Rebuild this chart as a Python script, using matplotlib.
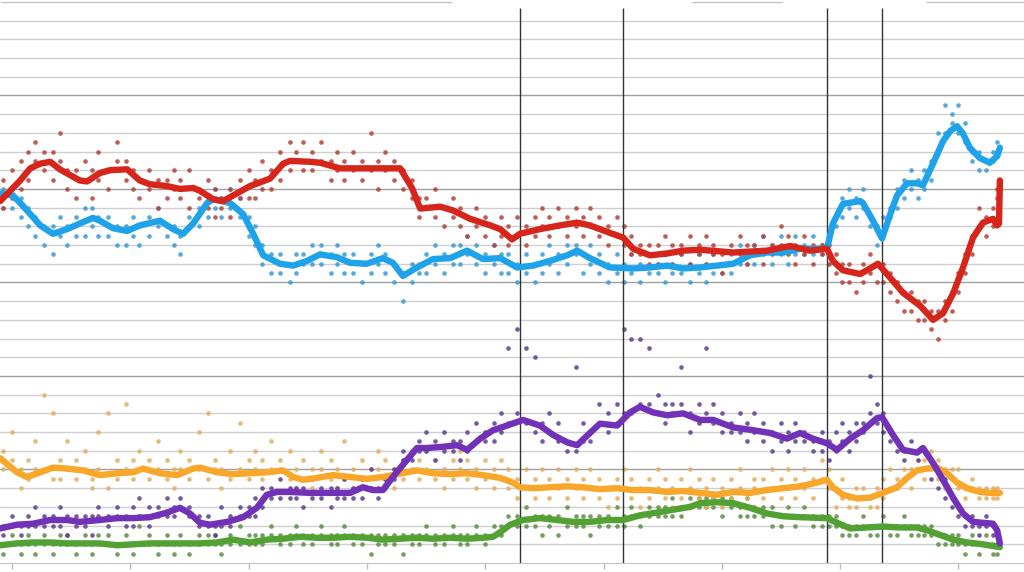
import matplotlib
matplotlib.use("Agg")
import matplotlib.pyplot as plt

# weeks since start of the parliament, poll share in percent

# smoothed trend lines
red_wk = [-2.6, 1.8, 4.0, 6.2, 8.4, 10.5, 14.9, 16.5, 19.3, 21.5, 25.3, 28.1, 30.3, 34.1, 36.9, 39.8, 41.3, 44.2,
          46.4, 48.6, 52.3, 56.7, 59.6, 61.1, 65.5, 67.7, 72.1, 81.5, 85.3, 87.9, 89.7, 94.1, 96.9, 100.7, 105.1,
          107.3, 109.9, 111.6, 116.0, 120.4, 124.2, 127.0, 131.4, 134.3, 136.5, 140.2, 144.0, 147.5, 151.2, 158.5,
          165.9, 171.0, 175.4, 179.1, 180.4, 182.6, 186.4, 188.6, 190.3, 193.0, 195.8, 199.6, 202.4, 204.6, 206.8,
          209.0, 211.2, 213.4, 215.6, 216.5, 216.9, 217.1]
red_pct = [38.7, 40.9, 42.2, 42.7, 42.9, 42.1, 40.9, 40.8, 41.7, 42.0, 42.1, 40.9, 40.5, 40.3, 40.0, 40.1, 39.8, 38.9,
           38.7, 39.3, 40.3, 41.1, 42.7, 43.0, 42.9, 42.8, 42.2, 42.2, 42.2, 40.1, 37.9, 38.1, 37.7, 36.8, 36.1,
           35.7, 34.6, 35.2, 35.7, 36.1, 36.4, 36.1, 35.3, 34.8, 33.6, 32.9, 33.1, 33.4, 33.5, 33.2,
           33.4, 33.9, 33.4, 33.6, 32.3, 31.3, 30.9, 31.5, 32.0, 30.5, 28.9, 27.5, 26.0, 26.7, 28.8,
           31.6, 34.8, 36.4, 36.8, 36.1, 36.3, 40.9]

blue_wk = [-2.6, 0.2, 1.8, 3.3, 6.2, 9.0, 12.1, 14.9, 17.8, 19.3, 22.2, 25.3, 28.1, 32.5, 35.4, 37.6, 39.8, 42.9,
           44.2, 47.9, 50.8, 53.0, 55.2, 58.9, 61.8, 64.8, 67.7, 71.4, 74.3, 78.0, 81.5, 83.7, 85.9, 89.0, 92.5,
           96.3, 100.0, 103.5, 107.3, 111.0, 114.5, 118.2, 122.0, 124.2, 127.0, 131.4, 136.5, 140.2, 144.0, 147.5,
           151.2, 154.9, 158.5, 162.2, 165.9, 169.5, 173.2, 179.1, 180.4, 182.6, 186.4, 187.0, 189.2, 191.2, 193.0,
           194.5, 196.7, 198.9, 200.2, 202.4, 204.6, 206.2, 207.7, 209.0, 210.5, 212.7, 214.9, 216.5, 217.1]
blue_pct = [39.5, 39.3, 38.5, 37.7, 36.1, 35.2, 35.7, 36.3, 36.9, 36.6, 35.8, 35.5, 36.1, 36.6, 35.7, 35.2, 36.3, 38.5,
            38.9, 38.5, 37.3, 35.2, 32.9, 32.0, 31.8, 32.3, 33.0, 32.7, 32.1, 32.0, 32.6, 32.1, 30.7, 31.6, 32.5,
            32.6, 33.4, 32.5, 32.6, 31.6, 31.8, 32.3, 32.9, 33.4, 32.6, 31.6, 31.5, 31.6, 31.8, 31.5,
            31.6, 31.8, 32.0, 32.9, 33.2, 33.2, 33.6, 33.6, 36.3, 38.4, 38.7, 38.5, 36.6, 34.7, 37.3,
            39.3, 40.6, 40.6, 40.4, 42.7, 45.1, 46.2, 46.7, 45.9, 44.4, 43.3, 42.8, 43.5, 44.4]

purple_wk = [-2.6, 1.1, 4.6, 8.4, 12.1, 14.9, 19.3, 23.1, 26.6, 30.3, 34.1, 36.9, 39.1, 41.3, 43.5, 47.3, 50.8, 53.8,
             56.0, 58.2, 61.1, 65.5, 70.5, 74.3, 77.1, 79.3, 81.5, 83.7, 85.9, 89.0, 91.2, 94.1, 97.8, 100.0, 102.9,
             105.7, 108.8, 112.3, 116.0, 118.9, 122.0, 124.2, 127.0, 129.2, 133.0, 135.8, 138.0, 140.9, 144.0, 147.5,
             151.2, 154.1, 158.5, 162.9, 166.6, 170.3, 173.2, 176.0, 179.1, 181.3, 184.2, 187.0, 190.1, 191.2, 193.6,
             195.8, 198.9, 200.2, 202.4, 204.6, 206.8, 209.0, 211.2, 213.4, 215.6, 216.5, 217.1]
purple_pct = [3.7, 4.1, 4.2, 4.6, 4.6, 4.4, 4.6, 4.8, 4.8, 4.9, 5.4, 5.9, 5.3, 4.3, 4.1, 4.4, 4.9, 5.9,
              7.3, 7.6, 7.6, 7.5, 7.5, 7.5, 8.1, 7.8, 7.8, 9.2, 10.5, 12.3, 12.3, 12.4, 12.6, 12.1, 13.3,
              14.2, 14.7, 15.3, 14.7, 13.7, 12.9, 12.6, 13.9, 14.9, 14.7, 16.1, 16.7, 16.1, 15.8, 16.0,
              15.3, 15.3, 14.5, 14.2, 13.9, 13.3, 13.9, 13.3, 12.8, 12.1, 13.3, 14.2, 15.5, 15.6, 13.7,
              12.1, 11.8, 12.3, 10.7, 8.9, 7.0, 5.3, 4.4, 4.3, 4.2, 3.5, 2.1]

orange_wk = [-2.6, 1.1, 3.3, 6.2, 9.0, 12.1, 15.6, 19.3, 23.1, 26.6, 28.8, 32.5, 36.3, 39.8, 41.3, 45.1, 48.6, 52.3,
             56.0, 59.6, 61.8, 64.0, 67.0, 70.5, 74.3, 78.0, 81.5, 83.7, 86.8, 89.0, 92.5, 96.3, 100.0, 103.5,
             107.3, 110.1, 111.6, 114.5, 118.2, 122.0, 125.5, 129.2, 133.0, 136.5, 140.2, 144.0, 147.5, 151.2,
             154.9, 158.5, 162.2, 165.9, 169.5, 173.2, 176.9, 179.1, 180.4, 182.6, 185.7, 188.6, 191.4, 194.5,
             196.7, 198.9, 201.1, 203.3, 205.5, 207.7, 209.9, 212.7, 214.9, 217.1]
orange_pct = [11.2, 9.7, 9.2, 9.7, 10.2, 10.1, 9.9, 9.4, 9.6, 9.7, 10.1, 9.6, 9.4, 10.1, 10.2, 9.7, 9.5, 9.6,
              9.7, 9.9, 9.2, 8.9, 9.1, 9.4, 9.2, 9.0, 9.2, 9.4, 9.7, 9.9, 9.6, 9.5, 9.6, 9.4,
              9.1, 8.6, 8.1, 8.0, 8.1, 8.2, 8.1, 7.9, 8.0, 7.8, 7.8, 7.6, 7.7, 7.5,
              7.3, 7.6, 7.5, 7.8, 8.0, 8.2, 8.6, 8.9, 8.1, 7.3, 6.9, 7.0, 7.5, 8.1,
              9.1, 9.9, 10.1, 10.2, 9.6, 8.6, 8.0, 7.6, 7.5, 7.5]

green_wk = [-2.6, 1.1, 4.6, 8.4, 12.1, 19.3, 23.1, 26.6, 30.3, 37.6, 41.3, 45.1, 48.6, 52.3, 56.0, 59.6, 63.3, 67.0,
            70.5, 74.3, 78.0, 81.5, 85.3, 89.0, 92.5, 96.3, 100.0, 103.5, 105.7, 107.3, 109.5, 112.3, 116.0, 119.8,
            123.3, 127.0, 130.8, 134.3, 138.0, 141.8, 145.3, 149.0, 151.2, 154.9, 158.5, 162.2, 165.9, 169.5,
            173.2, 179.1, 181.3, 184.2, 187.9, 191.4, 195.2, 198.9, 201.1, 204.0, 206.8, 209.9, 213.4, 217.1]
green_pct = [1.9, 2.1, 2.2, 2.2, 2.1, 2.1, 1.9, 2.0, 2.1, 2.1, 2.1, 2.2, 2.5, 2.2, 2.5, 2.6, 2.8, 2.7,
             2.7, 2.8, 2.7, 2.5, 2.6, 2.7, 2.6, 2.7, 2.6, 2.7, 2.8, 3.3, 4.1, 4.6, 4.8, 4.6,
             4.4, 4.4, 4.6, 4.6, 5.1, 5.4, 5.7, 6.0, 6.4, 6.5, 6.4, 5.9, 5.3, 5.0,
             4.9, 4.8, 4.3, 3.7, 3.8, 3.9, 3.8, 3.8, 3.5, 3.0, 2.5, 2.2, 2.0, 1.7]

# individual polls (two pollsters per date)
poll_wk = [-2, 0, 2, 3.5, 5, 7, 9, 10.5, 12, 14, 16, 17.5, 19, 21, 23, 25, 26.5, 28, 30, 32,
           34, 35.5, 37, 39, 41, 43, 44.5, 46, 48, 50, 52, 53.5, 55, 57, 59, 61, 62.5, 64, 66, 68,
           70, 71.5, 73, 75, 77, 79, 80.5, 82, 84, 86, 88, 89.5, 91, 93, 95, 97, 98.5, 100, 102, 104,
           106, 107.5, 109, 111, 113, 115, 116.5, 118, 120, 122, 124, 125.5, 127, 129, 131, 133, 134.5, 136, 138, 140,
           142, 143.5, 145, 147, 149, 151, 152.5, 154, 156, 158, 160, 161.5, 163, 165, 167, 169, 170.5, 172, 174, 176,
           178, 179.5, 181, 182.5, 184, 185.5, 187, 188.5, 190, 191.5, 193, 194.5, 196, 197.5, 199, 200.5, 202, 203.5,
           205, 206.5, 208, 209.5, 211, 212.5, 214, 215.5, 216.5]

red_a = [38, 42, 43, 41, 45, 42, 44, 43, 40, 42, 41, 39, 44, 42, 43, 41, 42, 39, 42, 38,
         41, 40, 39, 42, 40, 38, 40, 39, 37, 41, 42, 41, 43, 42, 44, 45, 44, 42, 44, 43,
         41, 44, 43, 42, 41, 46, 43, 42, 41, 42, 39, 37, 39, 37, 38, 39, 36, 37, 38, 35,
         36, 37, 34, 35, 36, 37, 36, 35, 38, 37, 36, 37, 36, 35, 36, 35, 34, 35, 33, 32,
         34, 33, 32, 34, 35, 33, 32, 34, 33, 34, 33, 32, 34, 35, 33, 34, 35, 34, 33, 34,
         33, 32, 31, 32, 30, 31, 32, 31, 32, 30, 31, 30, 29, 27, 28, 26, 25, 27, 28, 29,
         31, 33, 35, 36, 37, 38, 40]
red_b = [41, 39, 40, 44, 43, 44, 41, 46, 42, 39, 43, 42, 41, 40, 45, 43, 40, 41, 40, 41,
         39, 42, 41, 38, 39, 41, 37, 38, 40, 39, 39, 39, 40, 40, 41, 42, 43, 45, 42, 45,
         43, 42, 41, 44, 43, 42, 40, 44, 43, 40, 41, 39, 38, 40, 36, 37, 38, 35, 36, 37,
         34, 35, 36, 37, 34, 35, 38, 37, 36, 35, 38, 35, 38, 37, 34, 37, 36, 33, 34, 34,
         32, 35, 34, 33, 32, 34, 35, 33, 31, 32, 35, 34, 33, 32, 34, 36, 33, 32, 35, 32,
         34, 34, 33, 30, 32, 29, 30, 33, 30, 32, 29, 28, 27, 29, 26, 28, 27, 24, 26, 27,
         29, 31, 33, 38, 35, 36, 39]

blue_a = [40, 38, 39, 36, 37, 34, 36, 35, 36, 37, 35, 38, 37, 35, 36, 34, 37, 36, 35, 38,
          36, 34, 35, 36, 38, 39, 38, 39, 38, 37, 35, 34, 32, 33, 31, 32, 31, 33, 32, 34,
          33, 32, 33, 31, 32, 33, 32, 33, 32, 31, 30, 32, 33, 32, 33, 32, 34, 33, 32, 33,
          32, 33, 31, 32, 31, 32, 33, 32, 33, 32, 34, 33, 32, 31, 32, 31, 32, 31, 32, 31,
          32, 30, 32, 31, 32, 31, 32, 31, 32, 33, 32, 33, 34, 33, 34, 33, 34, 33, 34, 35,
          33, 35, 37, 39, 38, 39, 38, 37, 36, 35, 37, 40, 41, 40, 41, 42, 43, 44, 46, 47,
          46, 45, 44, 42, 43, 44, 45]
blue_b = [38, 40, 37, 38, 35, 36, 33, 37, 34, 35, 38, 36, 35, 37, 34, 36, 35, 34, 37, 36,
          35, 36, 33, 37, 36, 37, 40, 37, 40, 39, 37, 36, 34, 31, 33, 30, 33, 32, 34, 32,
          31, 34, 31, 33, 30, 31, 34, 31, 30, 28, 32, 31, 31, 34, 31, 34, 32, 35, 34, 31,
          34, 31, 33, 30, 33, 30, 31, 34, 31, 34, 33, 31, 34, 33, 30, 33, 30, 33, 30, 33,
          31, 33, 31, 33, 30, 33, 30, 33, 31, 31, 34, 32, 32, 35, 32, 35, 32, 35, 33, 33,
          34, 33, 36, 37, 40, 37, 40, 36, 34, 37, 38, 38, 39, 42, 39, 40, 41, 46, 49, 48,
          49, 47, 43, 44, 42, 43, 44]

purple_a = [4, 5, 4, 5, 4, 5, 4, 6, 5, 4, 5, 3, 5, 4, 6, 5, 4, 5, 6, 5,
            7, 6, 6, 5, 4, 5, 3, 4, 5, 5, 6, 7, 6, 8, 7, 8, 7, 8, 7, 8,
            6, 8, 7, 8, 9, 8, 7, 9, 10, 11, 12, 13, 12, 13, 12, 13, 11, 12, 13, 14,
            15, 14, 15, 16, 15, 14, 15, 14, 13, 13, 12, 13, 14, 15, 14, 15, 16, 16, 17, 17,
            16, 15, 16, 17, 16, 15, 16, 15, 14, 15, 14, 15, 14, 13, 14, 13, 14, 13, 14, 13,
            12, 13, 12, 13, 14, 13, 15, 16, 15, 16, 14, 13, 12, 12, 11, 12, 11, 10, 9, 7,
            6, 5, 4, 4, 4, 4, 3]
purple_b = [3, 4, 3, 4, 6, 4, 5, 4, 3, 5, 4, 5, 6, 5, 5, 4, 6, 7, 4, 6,
            5, 5, 7, 6, 5, 4, 4, 6, 4, 6, 5, 5, 8, 7, 9, 7, 8, 6, 9, 7,
            8, 7, 9, 7, 7, 10, 8, 8, 9, 12, 11, 12, 14, 11, 14, 12, 13, 14, 15, 13,
            13, 16, 23, 25, 23, 22, 13, 16, 15, 12, 21, 15, 13, 17, 16, 17, 25, 24, 24, 23,
            18, 17, 17, 21, 14, 17, 23, 17, 16, 14, 16, 13, 16, 15, 12, 15, 12, 15, 13, 12,
            14, 11, 14, 15, 12, 15, 14, 20, 17, 14, 13, 12, 11, 13, 12, 10, 9, 8, 7, 6,
            5, 4, 5, 3, 5, 3, 2]

orange_a = [12, 11, 10, 9, 10, 10, 9, 11, 10, 9, 12, 9, 10, 8, 11, 10, 9, 10, 11, 10,
            9, 8, 10, 11, 10, 9, 11, 10, 9, 10, 11, 10, 9, 10, 11, 9, 10, 9, 8, 10,
            9, 10, 9, 10, 9, 8, 10, 9, 10, 11, 10, 9, 10, 11, 10, 9, 10, 11, 10, 9,
            10, 9, 8, 9, 8, 7, 8, 9, 8, 9, 8, 7, 8, 9, 8, 7, 8, 9, 8, 7,
            8, 7, 8, 9, 8, 7, 8, 7, 8, 7, 8, 7, 8, 7, 8, 9, 8, 9, 8, 9,
            9, 8, 8, 7, 7, 6, 7, 7, 8, 7, 8, 8, 9, 10, 10, 11, 10, 11, 10, 9,
            8, 8, 8, 7, 8, 7, 8]
orange_b = [10, 14, 8, 11, 13, 18, 16, 9, 13, 11, 10, 8, 14, 16, 9, 17, 11, 12, 9, 13,
            11, 10, 12, 9, 14, 16, 10, 8, 12, 15, 9, 12, 11, 13, 10, 12, 8, 11, 10, 12,
            11, 8, 13, 8, 11, 10, 12, 11, 8, 9, 12, 11, 12, 9, 8, 11, 12, 9, 8, 11,
            8, 11, 10, 7, 10, 9, 10, 7, 10, 7, 10, 9, 10, 7, 6, 9, 10, 7, 6, 9,
            10, 9, 6, 7, 10, 9, 6, 9, 6, 9, 10, 6, 9, 9, 10, 7, 10, 7, 10, 7,
            11, 10, 6, 9, 6, 8, 8, 6, 6, 9, 10, 9, 10, 8, 11, 9, 12, 9, 8, 10,
            10, 7, 9, 8, 7, 8, 7]

green_a = [2, 2, 2, 3, 2, 2, 1, 2, 3, 2, 2, 1, 2, 3, 2, 2, 1, 2, 3, 2,
           2, 1, 3, 2, 2, 2, 3, 2, 3, 2, 2, 3, 2, 3, 2, 3, 4, 3, 2, 3,
           2, 3, 4, 3, 2, 3, 2, 3, 2, 3, 2, 3, 4, 2, 3, 3, 2, 3, 3, 2,
           3, 4, 4, 5, 4, 5, 5, 4, 5, 4, 5, 4, 5, 4, 5, 4, 5, 5, 5, 6,
           5, 6, 5, 6, 7, 6, 7, 6, 7, 6, 6, 5, 6, 5, 6, 5, 5, 4, 5, 5,
           4, 5, 4, 4, 3, 4, 4, 3, 4, 4, 3, 4, 4, 3, 4, 4, 3, 3, 3, 2,
           2, 2, 2, 2, 2, 2, 2]
green_b = [1, 3, 1, 2, 1, 3, 2, 3, 2, 1, 3, 2, 3, 2, 1, 3, 2, 4, 2, 1,
           3, 2, 2, 1, 3, 3, 2, 1, 2, 4, 3, 2, 3, 4, 3, 2, 3, 2, 3, 4,
           3, 2, 3, 2, 3, 1, 3, 2, 3, 1, 3, 2, 3, 3, 2, 4, 3, 2, 4, 3,
           4, 3, 5, 4, 6, 4, 3, 5, 3, 6, 4, 5, 3, 5, 4, 6, 4, 6, 4, 5,
           6, 5, 7, 5, 6, 7, 6, 7, 5, 7, 5, 7, 5, 6, 4, 4, 6, 5, 6, 4,
           5, 4, 5, 3, 4, 3, 5, 4, 3, 5, 4, 3, 5, 4, 3, 3, 4, 2, 2, 3,
           3, 1, 3, 1, 3, 1, 1]

# events marked by vertical lines
event_wk = [111.6, 134.3, 179.1, 191.2]
year_ticks = [0, 26, 52, 78, 104, 130, 156, 182, 208]

series = [
    # trend x, trend y, poll a, poll b, line colour, dot colour
    (blue_wk, blue_pct, blue_a, blue_b, "#1ea3ea", "#3a9ad6"),
    (red_wk, red_pct, red_a, red_b, "#d6261c", "#b5413a"),
    (green_wk, green_pct, green_a, green_b, "#52a133", "#5e8d45"),
    (orange_wk, orange_pct, orange_a, orange_b, "#f9a72a", "#e3ae60"),
    (purple_wk, purple_pct, purple_a, purple_b, "#7232b8", "#5c3d91"),
]

fig = plt.figure(figsize=(10.24, 5.72), dpi=100)
ax = fig.add_axes([0, 0, 1, 1])
ax.set_xlim(-2.64, 222.4)
ax.set_ylim(-0.96, 60.2)

# horizontal grid: every 2 points, darker every 10
for v in range(2, 60, 2):
    c = "#a0a0a0" if v % 10 == 0 else "#cfcfcf"
    ax.axhline(v, color=c, lw=1.0, zorder=0)
# the top line is broken in the original
for x0, x1 in [(-2.64, 96.7), (149.5, 169.5), (200.9, 222.4)]:
    ax.hlines(60, x0, x1, color="#c4c4c4", lw=1.0, zorder=0)

for spine in ["top", "right", "left"]:
    ax.spines[spine].set_visible(False)
ax.spines["bottom"].set_position(("data", 0))
ax.spines["bottom"].set_color("#c4c4c4")
ax.set_xticks(year_ticks)
ax.set_yticks([])
ax.tick_params(axis="x", direction="out", length=4.5, width=1, color="#bdbdbd", labelbottom=False)

for wk, pct, pa, pb, lc, dc in series:
    ax.scatter(poll_wk, pa, s=11, color=dc, alpha=0.85, linewidths=0, zorder=2)
    ax.scatter(poll_wk, pb, s=11, color=dc, alpha=0.85, linewidths=0, zorder=2)

ax.vlines(event_wk, 0, 59.3, color="#333333", lw=1.0, zorder=2.5)

for wk, pct, pa, pb, lc, dc in series:
    ax.plot(wk, pct, color=lc, lw=4.6, solid_capstyle="round", solid_joinstyle="round", zorder=3)

fig.savefig("out.png", dpi=100)
